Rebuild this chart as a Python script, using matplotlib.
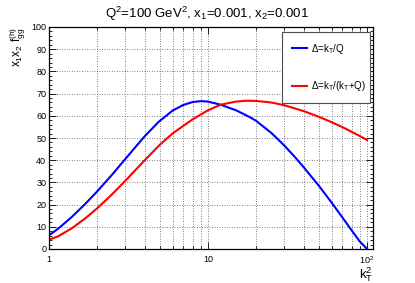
import matplotlib as mpl
mpl.use('Agg')
import matplotlib.pyplot as plt
from matplotlib.ticker import LogLocator, FixedLocator, MultipleLocator, FuncFormatter

plt.rcParams['font.family'] = ['Liberation Sans', 'DejaVu Sans']
plt.rcParams['mathtext.fontset'] = 'custom'
plt.rcParams['mathtext.rm'] = 'Liberation Sans'
plt.rcParams['mathtext.it'] = 'Liberation Sans'
plt.rcParams['mathtext.default'] = 'regular'

# values
kt2_q = [1, 1.14, 1.39, 1.69, 2, 2.48, 3, 3.65, 4, 4.88, 6, 7, 8, 9, 10, 12, 13.7, 15, 18.3, 20,
         25, 30, 35, 40, 50, 60, 70, 80, 90, 100]
f_kt_q = [6.2, 9.1, 14.4, 20.3, 25.8, 33.3, 40.3, 47.5, 50.8, 57.2, 62.4, 64.9, 66.2, 66.6, 66.4,
          65.0, 63.5, 62.5, 59.4, 57.8, 52.3, 46.8, 41.6, 36.8, 28.3, 20.8, 14.2, 8.4, 3.4, 0.0]
kt2_ktq = [1, 1.14, 1.39, 1.69, 2, 2.48, 3, 4, 5, 6, 8, 10, 12, 15, 17.5, 20, 25, 30, 40, 50, 60,
           70, 80, 90, 100]
f_kt_ktq = [4.2, 5.7, 9.3, 13.8, 18.2, 24.5, 30.5, 40.0, 47.1, 52.1, 58.4, 62.5, 65.0, 66.4,
            66.8, 66.7, 66.0, 64.8, 62.1, 59.5, 57.1, 54.9, 52.8, 50.9, 49.1]
labels = ['Δ=k$_T$/Q', 'Δ=k$_T$/(k$_T$+Q)']

fig = plt.figure(figsize=(4.15, 2.83), dpi=100)
ax = fig.add_axes([49/415, 1-249/283, 324/415, 222/283])

ax.plot(kt2_q, f_kt_q, color='#0000ff', lw=1.5, label=labels[0])
ax.plot(kt2_ktq, f_kt_ktq, color='#ff0000', lw=1.5, label=labels[1])

ax.set_xscale('log')
ax.set_xlim(1, 109)
ax.set_ylim(0, 100)

ax.xaxis.set_major_locator(FixedLocator([1, 10, 100]))
ax.xaxis.set_minor_locator(LogLocator(base=10, subs=range(2, 10)))
ax.xaxis.set_major_formatter(FuncFormatter(lambda v, p: {1: '1', 10: '10', 100: '10$^{2}$'}.get(int(round(v)), '')))
ax.xaxis.set_minor_formatter(FuncFormatter(lambda v, p: ''))
ax.yaxis.set_major_locator(MultipleLocator(10))
ax.yaxis.set_minor_locator(MultipleLocator(2))

ax.tick_params(which='both', direction='in', top=True, right=True, labelsize=6.5, width=0.6)
ax.tick_params(which='major', length=5)
ax.tick_params(which='minor', length=2.5)
ax.tick_params(axis='x', pad=4)
ax.tick_params(axis='y', pad=2)

ax.grid(which='major', color='0.35', ls=(0, (1, 2)), lw=0.6)
ax.grid(which='minor', axis='x', color='0.35', ls=(0, (1, 2)), lw=0.6)
for s in ax.spines.values():
    s.set_linewidth(0.9)

ax.set_ylabel('x$_1$x$_2$ f$_{gg}^{(h)}$', loc='top', fontsize=8.5, labelpad=2)
ax.set_xlabel('k$_T^2$', loc='right', fontsize=9.5, labelpad=-1)

fig.text(207/415, 1-14/283, 'Q$^2$=100 GeV$^2$, x$_1$=0.001, x$_2$=0.001',
         ha='center', va='center', fontsize=9.5)

leg = ax.legend(loc='upper left', bbox_to_anchor=(0.719, 0.977, 0.272, 0.0), mode='expand',
                fontsize=7, frameon=True, fancybox=False, framealpha=1, edgecolor='0.3',
                borderpad=1.0, labelspacing=2.4, handlelength=1.6, handletextpad=0.4,
                borderaxespad=0)
leg.get_frame().set_linewidth(0.8)

plt.savefig('out.png', dpi=100)
